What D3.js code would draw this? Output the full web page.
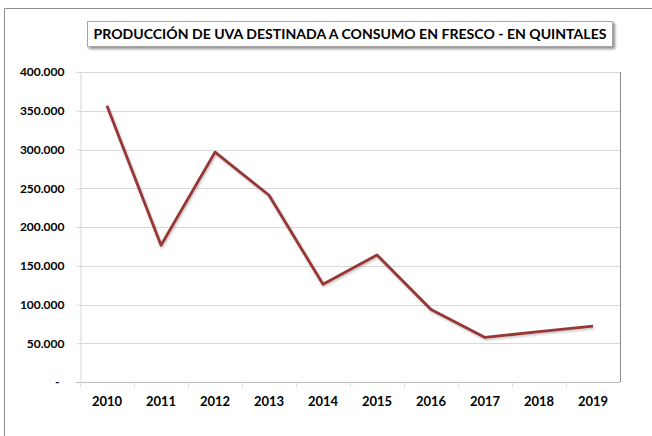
<!DOCTYPE html>
<html>
<head>
<meta charset="utf-8">
<script src="https://cdn.jsdelivr.net/npm/d3@7"></script>
<style>
  body { margin: 0; background: #fff; }
  svg { display: block; font-family: Lato, "Open Sans", sans-serif; }
</style>
</head>
<body>
<div id="chart"></div>
<script>
var title = "PRODUCCIÓN DE UVA DESTINADA A CONSUMO EN FRESCO - EN QUINTALES"
var years = ["2010", "2011", "2012", "2013", "2014", "2015", "2016", "2017", "2018", "2019"]
var values = [356500, 176500, 296500, 241000, 126000, 164000, 93500, 57500, 65000, 72000]
var yTicks = [0, 50000, 100000, 150000, 200000, 250000, 300000, 350000, 400000]

var width = 652,
    height = 436,
    margin = { top: 72, right: 32, bottom: 54, left: 80 }

var svg = d3.select('#chart').append('svg')
    .attr('width', width)
    .attr('height', height)

var defs = svg.append('defs')
var shadow = defs.append('filter').attr('id', 'shadow')
    .attr('x', '-10%').attr('y', '-30%').attr('width', '120%').attr('height', '180%')
shadow.append('feDropShadow')
    .attr('dx', 2).attr('dy', 2).attr('stdDeviation', 1.5)
    .attr('flood-color', '#000').attr('flood-opacity', 0.45)

var lineShadow = defs.append('filter').attr('id', 'lineShadow')
    .attr('x', '-10%').attr('y', '-10%').attr('width', '120%').attr('height', '120%')
lineShadow.append('feDropShadow')
    .attr('dx', 1).attr('dy', 1.5).attr('stdDeviation', 1)
    .attr('flood-color', '#000').attr('flood-opacity', 0.25)

// outer chart border (left and top only are visible)
svg.append('path')
    .attr('d', 'M4.5,436 V8.5 H652')
    .attr('fill', 'none')
    .attr('stroke', '#8c8c8c')
    .attr('stroke-width', 1)

var x = d3.scaleBand()
    .domain(years)
    .range([margin.left, width - margin.right])

var y = d3.scaleLinear()
    .domain([0, 400000])
    .range([height - margin.bottom, margin.top])

var fmt = function(d) {
    if (d === 0) return '-'
    return d3.format(',')(d).replace(/,/g, '.')
}

// gridlines
svg.append('g')
    .selectAll('line').data(yTicks.filter(function(d) { return d > 0 }))
    .enter().append('line')
        .attr('x1', margin.left)
        .attr('x2', width - margin.right)
        .attr('y1', function(d) { return Math.round(y(d)) + 0.5 })
        .attr('y2', function(d) { return Math.round(y(d)) + 0.5 })
        .attr('stroke', '#d9d9d9')
        .attr('stroke-width', 1)

// plot area frame (right side)
svg.append('line')
    .attr('x1', width - margin.right + 0.5)
    .attr('x2', width - margin.right + 0.5)
    .attr('y1', margin.top)
    .attr('y2', height - margin.bottom)
    .attr('stroke', '#8c8c8c')

// y axis
var yAxis = svg.append('g')
    .attr('transform', 'translate(' + (margin.left + 0.5) + ',0)')
    .call(d3.axisLeft(y).tickValues(yTicks).tickFormat(fmt).tickSize(4).tickPadding(12))
yAxis.select('.domain').attr('stroke', '#d9d9d9')
yAxis.selectAll('.tick line').attr('stroke', '#d9d9d9')
yAxis.selectAll('text')
    .attr('font-size', 12)
    .attr('font-weight', 'bold')
    .attr('fill', '#000')
    .attr('font-family', 'Lato, "Open Sans", sans-serif')
    .attr('dx', function(d) { return d === 0 ? -5 : 0 })

// x axis
var xAxis = svg.append('g')
    .attr('transform', 'translate(0,' + (height - margin.bottom + 0.5) + ')')
    .call(d3.axisBottom(x).tickSize(0).tickPadding(14))
xAxis.select('.domain').attr('stroke', '#bfbfbf').attr('d', 'M' + (margin.left - 4) + ',0H' + (width - margin.right))
xAxis.selectAll('text')
    .attr('font-size', 13)
    .attr('font-weight', 'bold')
    .attr('fill', '#000')
    .attr('font-family', 'Lato, "Open Sans", sans-serif')

// category boundary ticks
svg.append('g')
    .selectAll('line').data(years)
    .enter().append('line')
        .attr('x1', function(d) { return Math.round(x(d)) + 0.5 })
        .attr('x2', function(d) { return Math.round(x(d)) + 0.5 })
        .attr('y1', height - margin.bottom)
        .attr('y2', height - margin.bottom + 5)
        .attr('stroke', '#d9d9d9')

var line = d3.line()
    .x(function(d, i) { return x(years[i]) + x.bandwidth() / 2 })
    .y(function(d) { return y(d) })

svg.append('path')
    .datum(values)
    .attr('d', line)
    .attr('fill', 'none')
    .attr('stroke', '#953735')
    .attr('stroke-width', 2.8)
    .attr('stroke-linejoin', 'round')
    .attr('filter', 'url(#lineShadow)')

// title box
var tg = svg.append('g')
tg.append('rect')
    .attr('x', 87.5)
    .attr('y', 21.5)
    .attr('width', 525)
    .attr('height', 25)
    .attr('fill', '#fff')
    .attr('stroke', '#a6a6a6')
    .attr('filter', 'url(#shadow)')
tg.append('text')
    .attr('x', 350)
    .attr('y', 39)
    .attr('text-anchor', 'middle')
    .attr('font-size', 14)
    .attr('font-weight', 'bold')
    .attr('textLength', 513)
    .attr('lengthAdjust', 'spacingAndGlyphs')
    .text(title)
</script>
</body>
</html>
